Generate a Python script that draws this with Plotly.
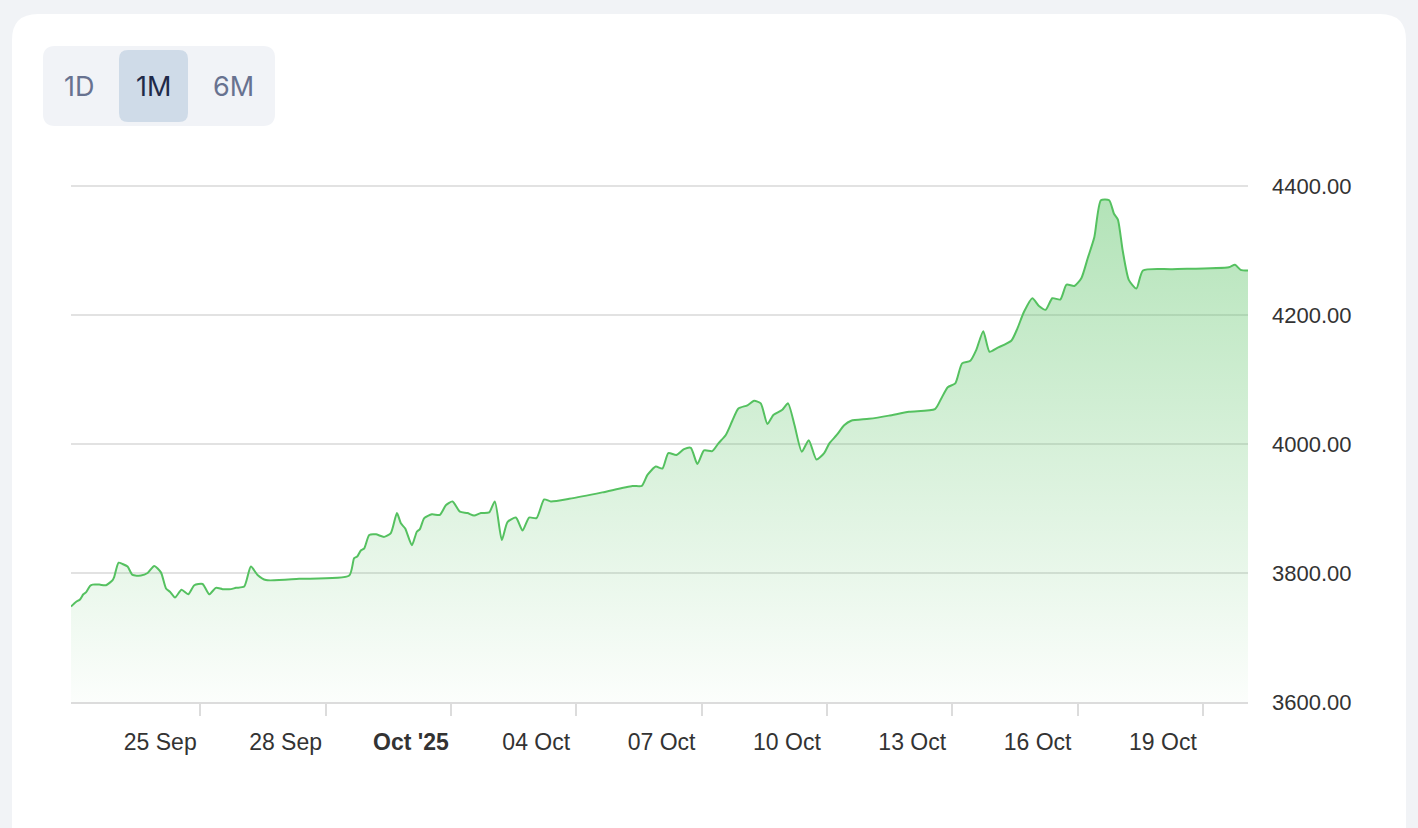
import plotly.graph_objects as go

# ---- data ----
times = [
    "2025-09-21 21:45", "2025-09-22 00:35", "2025-09-22 02:55", "2025-09-22 04:50", "2025-09-22 06:20",
    "2025-09-22 08:40", "2025-09-22 10:10", "2025-09-22 14:00", "2025-09-22 17:50", "2025-09-22 21:40",
    "2025-09-22 22:35", "2025-09-23 01:05", "2025-09-23 03:20", "2025-09-23 06:15", "2025-09-23 09:05",
    "2025-09-23 13:55", "2025-09-23 17:45", "2025-09-23 21:35", "2025-09-24 01:25", "2025-09-24 04:20",
    "2025-09-24 06:35", "2025-09-24 09:30", "2025-09-24 13:15", "2025-09-24 17:05", "2025-09-24 20:35",
    "2025-09-25 01:20", "2025-09-25 05:10", "2025-09-25 09:00", "2025-09-25 12:50", "2025-09-25 17:40",
    "2025-09-25 20:30", "2025-09-26 01:15", "2025-09-26 05:05", "2025-09-26 08:55", "2025-09-26 13:45",
    "2025-09-27 08:50", "2025-09-28 13:35", "2025-09-28 16:25", "2025-09-28 18:20", "2025-09-28 20:15",
    "2025-09-28 22:10", "2025-09-29 01:05", "2025-09-29 04:55", "2025-09-29 09:40", "2025-09-29 13:30",
    "2025-09-29 17:00", "2025-09-29 19:15", "2025-09-29 21:45", "2025-09-30 01:35", "2025-09-30 04:25",
    "2025-09-30 06:10", "2025-09-30 08:40", "2025-09-30 13:05", "2025-09-30 17:40", "2025-09-30 21:05",
    "2025-10-01 00:55", "2025-10-01 05:10", "2025-10-01 09:30", "2025-10-01 13:20", "2025-10-01 17:15",
    "2025-10-01 22:00", "2025-10-02 01:15", "2025-10-02 05:15", "2025-10-02 08:30", "2025-10-02 13:20",
    "2025-10-02 17:10", "2025-10-02 20:55", "2025-10-03 01:10", "2025-10-03 05:35", "2025-10-03 09:25",
    "2025-10-03 19:55", "2025-10-04 15:00", "2025-10-05 08:15", "2025-10-05 13:40", "2025-10-05 16:55",
    "2025-10-05 21:40", "2025-10-06 01:30", "2025-10-06 04:55", "2025-10-06 09:30", "2025-10-06 13:55",
    "2025-10-06 17:50", "2025-10-06 21:35", "2025-10-07 01:25", "2025-10-07 06:10", "2025-10-07 09:40",
    "2025-10-07 13:55", "2025-10-07 17:40", "2025-10-07 21:10", "2025-10-08 02:20", "2025-10-08 06:10",
    "2025-10-08 10:00", "2025-10-08 13:50", "2025-10-08 17:15", "2025-10-08 22:25", "2025-10-09 01:40",
    "2025-10-09 05:25", "2025-10-09 09:35", "2025-10-09 13:35", "2025-10-09 18:00", "2025-10-09 22:25",
    "2025-10-10 01:25", "2025-10-10 05:40", "2025-10-10 09:55", "2025-10-10 13:55", "2025-10-11 00:10",
    "2025-10-11 11:40", "2025-10-11 23:10", "2025-10-12 14:05", "2025-10-12 17:25", "2025-10-12 21:25",
    "2025-10-13 01:45", "2025-10-13 05:40", "2025-10-13 10:25", "2025-10-13 13:50", "2025-10-13 17:50",
    "2025-10-13 21:25", "2025-10-14 01:55", "2025-10-14 09:55", "2025-10-14 13:25", "2025-10-14 17:15",
    "2025-10-14 22:00", "2025-10-15 01:50", "2025-10-15 05:40", "2025-10-15 09:30", "2025-10-15 14:05",
    "2025-10-15 17:40", "2025-10-15 22:10", "2025-10-16 02:10", "2025-10-16 05:50", "2025-10-16 09:40",
    "2025-10-16 13:25", "2025-10-16 18:10", "2025-10-16 20:55", "2025-10-16 23:10", "2025-10-17 01:55",
    "2025-10-17 05:30", "2025-10-17 09:50", "2025-10-17 13:35", "2025-10-18 06:25", "2025-10-19 14:55",
    "2025-10-19 18:25", "2025-10-19 21:40", "2025-10-20 01:55",
]
prices = [
    3748, 3755, 3759, 3767, 3770,
    3780, 3782, 3782, 3781, 3789,
    3794, 3816, 3814, 3810, 3797,
    3796, 3800, 3811, 3801, 3776,
    3771, 3762, 3774, 3767, 3781,
    3783, 3767, 3777, 3775, 3775,
    3777, 3779, 3810, 3797, 3789,
    3791, 3796, 3823, 3826, 3835,
    3838, 3859, 3860, 3856, 3862,
    3893, 3877, 3869, 3843, 3864,
    3868, 3885, 3891, 3890, 3905,
    3911, 3895, 3893, 3889, 3893,
    3894, 3911, 3851, 3879, 3886,
    3866, 3886, 3885, 3914, 3911,
    3915, 3925, 3935, 3935, 3952,
    3965, 3962, 3986, 3983, 3992,
    3994, 3969, 3990, 3989, 4001,
    4014, 4036, 4055, 4060, 4067,
    4063, 4031, 4045, 4053, 4063,
    4029, 3988, 4006, 3976, 3986,
    4001, 4014, 4029, 4036, 4039,
    4044, 4050, 4054, 4069, 4088,
    4094, 4125, 4129, 4146, 4175,
    4143, 4149, 4160, 4179, 4205,
    4226, 4214, 4208, 4226, 4224,
    4247, 4245, 4257, 4288, 4321,
    4378, 4378, 4357, 4348, 4300,
    4254, 4241, 4269, 4271, 4274,
    4278, 4270, 4269,
]

x_tick_vals = ["2025-09-25", "2025-09-28", "2025-10-01", "2025-10-04", "2025-10-07",
               "2025-10-10", "2025-10-13", "2025-10-16", "2025-10-19"]
x_tick_text = ["25 Sep", "28 Sep", "<b>Oct '25</b>", "04 Oct", "07 Oct",
               "10 Oct", "13 Oct", "16 Oct", "19 Oct"]
y_tick_vals = [3600, 3800, 4000, 4200, 4400]
y_tick_text = [f"{v:.2f}" for v in y_tick_vals]
range_buttons = ["1D", "1M", "6M"]
active_button = "1M"

# ---- layout geometry (pixels) ----
W, H = 1418, 828
PL, PR, PB = 71, 1248, 702
Y_LO, Y_HI_PIX = 3600, 186          # 3600 at y=702, 4400 at y=186
PT = 178                              # a little headroom so the 4400 gridline is drawn
per_px = (4400 - 3600) / (PB - Y_HI_PIX)
y_top = 4400 + (Y_HI_PIX - PT) * per_px


def px(x):
    return (x - PL) / (PR - PL)


def py(y):
    return (PB - y) / (PB - PT)


def rrect(x0, y0, x1, y1, r):
    pts = [
        ("M", (x0 + r, y0)), ("L", (x1 - r, y0)), ("Q", (x1, y0), (x1, y0 + r)),
        ("L", (x1, y1 - r)), ("Q", (x1, y1), (x1 - r, y1)), ("L", (x0 + r, y1)),
        ("Q", (x0, y1), (x0, y1 - r)), ("L", (x0, y0 + r)), ("Q", (x0, y0), (x0 + r, y0)),
    ]
    s = ""
    for item in pts:
        cmd = item[0]
        coords = " ".join(f"{px(a):.5f},{py(b):.5f}" for a, b in item[1:])
        s += f"{cmd} {coords} "
    return s + "Z"


fig = go.Figure()
fig.add_trace(go.Scatter(
    x=times, y=prices, mode="lines",
    line=dict(color="#55c160", width=2, shape="spline", smoothing=0.6),
    fill="tozeroy",
    fillgradient=dict(type="vertical", start=3600, stop=4400,
                      colorscale=[[0, "rgba(85,193,96,0.02)"], [1, "rgba(85,193,96,0.46)"]]),
    hoverinfo="skip", showlegend=False,
))

shapes = [
    dict(type="path", xref="paper", yref="paper", layer="below",
         path=rrect(12, 14, 1406, 870, 26), fillcolor="#ffffff", line=dict(width=0)),
    dict(type="path", xref="paper", yref="paper", layer="above",
         path=rrect(43, 46, 275, 126, 12), fillcolor="#f1f3f7", line=dict(width=0)),
    dict(type="path", xref="paper", yref="paper", layer="above",
         path=rrect(119, 50, 188, 122, 9), fillcolor="#cfdbe8", line=dict(width=0)),
]

btn_centers = [79, 153, 233]
annotations = []
for label, cx in zip(range_buttons, btn_centers):
    annotations.append(dict(
        xref="paper", yref="paper", x=px(cx), y=py(86), text=label, showarrow=False,
        xanchor="center", yanchor="middle",
        font=dict(family="Inter, Roboto, sans-serif", size=27,
                  color="#1f2a48" if label == active_button else "#687290"),
    ))

fig.update_layout(
    width=W, height=H,
    margin=dict(l=PL, r=W - PR, t=PT, b=H - PB, pad=0),
    paper_bgcolor="#f1f3f6",
    plot_bgcolor="rgba(0,0,0,0)",
    font=dict(family="Liberation Sans, Arial, sans-serif", size=18, color="#333333"),
    shapes=shapes,
    annotations=annotations,
    hovermode=False,
    xaxis=dict(
        type="date", range=[times[0], times[-1]],
        tickmode="array", tickvals=x_tick_vals, ticktext=x_tick_text,
        ticks="outside", ticklen=12, tickwidth=1.5, tickcolor="#dcdcdc",
        showline=True, linecolor="#dcdcdc", linewidth=2,
        showgrid=False, zeroline=False,
        tickfont=dict(size=23, color="#333333"),
        ticklabelstandoff=6,
        ticklabelshift=-40,
        fixedrange=True,
    ),
    yaxis=dict(
        side="right", range=[Y_LO, y_top],
        tickmode="array", tickvals=y_tick_vals, ticktext=y_tick_text,
        showgrid=True, gridcolor="#e2e2e2", gridwidth=1.5,
        showline=False, zeroline=False, ticks="",
        tickfont=dict(size=22, color="#333333"),
        ticklabelstandoff=23,
        fixedrange=True,
    ),
)

fig.write_html("out.html", config={"displayModeBar": False},
               post_script="document.body.style.margin='0';document.body.style.overflow='hidden';")
